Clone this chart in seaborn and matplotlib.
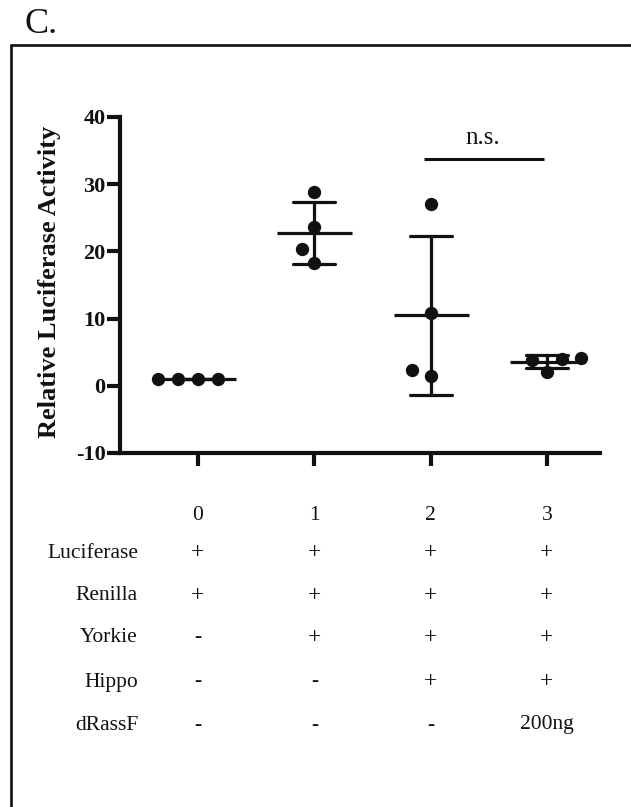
import numpy as np
import pandas as pd
import matplotlib
matplotlib.use("Agg")
import matplotlib.pyplot as plt
from matplotlib.lines import Line2D
from matplotlib.transforms import blended_transform_factory
import seaborn as sns

# ---- data ----
groups = ["0", "1", "2", "3"]
group0 = [1.0, 1.0, 1.0, 1.0]
group1 = [28.8, 23.6, 20.4, 18.2]
group2 = [27.1, 10.9, 1.5, 2.4]
group3 = [4.0, 2.1, 3.9, 4.2]
y_ticks = [-10, 0, 10, 20, 30, 40]
ylabel = "Relative Luciferase Activity"
sig_label = "n.s."
sig_pair = ("2", "3")
row_names = ["Luciferase", "Renilla", "Yorkie", "Hippo", "dRassF"]
row_values = [
    ["+", "+", "+", "+"],
    ["+", "+", "+", "+"],
    ["-", "+", "+", "+"],
    ["-", "-", "+", "+"],
    ["-", "-", "-", "200ng"],
]
panel_label = "C."

df = pd.DataFrame({
    "group": np.repeat(groups, 4),
    "value": group0 + group1 + group2 + group3,
})

# ---- style ----
sns.set_theme(style="ticks")
plt.rcParams["font.family"] = ["Liberation Serif", "DejaVu Serif"]
ink = "#111111"
plt.rcParams["text.color"] = ink

W, H = 631, 807
fig = plt.figure(figsize=(W / 100, H / 100), dpi=100)
fig.patch.set_facecolor("white")

# axes placement (pixel based)
ax_l, ax_r, ax_t, ax_b = 120, 600, 117, 453
ax = fig.add_axes([ax_l / W, 1 - ax_b / H, (ax_r - ax_l) / W, (ax_b - ax_t) / H])
ax.set_facecolor("white")

# mean +/- SD
sns.pointplot(data=df, x="group", y="value", order=groups, errorbar="sd",
              capsize=0.36, linestyle="none", marker="_", markersize=54,
              markeredgewidth=2.3, color=ink, err_kws={"linewidth": 2.3},
              ax=ax, zorder=2)

# individual points (transparent edge widens swarm spacing)
sns.swarmplot(data=df, x="group", y="value", order=groups, color=ink,
              size=9.6, linewidth=4.0, edgecolor=(0, 0, 0, 0), ax=ax, zorder=3)

x0 = 198.0
step = 116.33
ax.set_xlim((ax_l - x0) / step, (ax_r - x0) / step)
ax.set_ylim(-10, 40)
ax.set_yticks(y_ticks)
ax.set_yticklabels([str(t) for t in y_ticks], fontweight="bold", fontsize=16, color=ink)
ax.tick_params(axis="y", length=9.5, width=3, direction="out", pad=1, color=ink)
ax.tick_params(axis="x", length=9.5, width=3, direction="out", labelbottom=False, color=ink)
ax.set_xlabel("")
ax.set_ylabel(ylabel, fontweight="bold", fontsize=19, color=ink, va="center")
ax.yaxis.set_label_coords((50 - ax_l) / (ax_r - ax_l), 0.509)
for side in ["top", "right"]:
    ax.spines[side].set_visible(False)
for side in ["left", "bottom"]:
    ax.spines[side].set_linewidth(3)
    ax.spines[side].set_color(ink)

# significance bracket
i1, i2 = groups.index(sig_pair[0]), groups.index(sig_pair[1])
ax.plot([i1 - 0.06, i2 - 0.03], [33.8, 33.8], color=ink, lw=2.2,
        solid_capstyle="butt", clip_on=False)
ax.text((i1 + i2) / 2 - 0.05, 36.0, sig_label, ha="center", va="baseline",
        fontsize=18, color=ink)

# condition table below
trans = blended_transform_factory(ax.transData, fig.transFigure)
row_px = [553, 596, 638, 682, 725]
num_px = 516
for i, g in enumerate(groups):
    ax.text(i, 1 - num_px / H, g, transform=trans, ha="center", va="center",
            fontsize=15.5, color=ink)
for r, name in enumerate(row_names):
    fig.text(138 / W, 1 - row_px[r] / H, name, ha="right", va="center",
             fontsize=15.5, color=ink)
    for i, v in enumerate(row_values[r]):
        fs = 17 if v == "+" else 15.5
        ax.text(i, 1 - row_px[r] / H, v, transform=trans, ha="center",
                va="center", fontsize=fs, color=ink)

# panel frame and label
fig.add_artist(Line2D([11 / W, 1.0], [1 - 45 / H, 1 - 45 / H],
                      transform=fig.transFigure, color=ink, lw=1.9))
fig.add_artist(Line2D([11 / W, 11 / W], [1 - 45 / H, 0.0],
                      transform=fig.transFigure, color=ink, lw=1.9))
fig.text(25 / W, 1 - 33 / H, panel_label, ha="left", va="baseline",
         fontsize=26, color=ink)

fig.savefig("out.png", dpi=100, facecolor="white")
